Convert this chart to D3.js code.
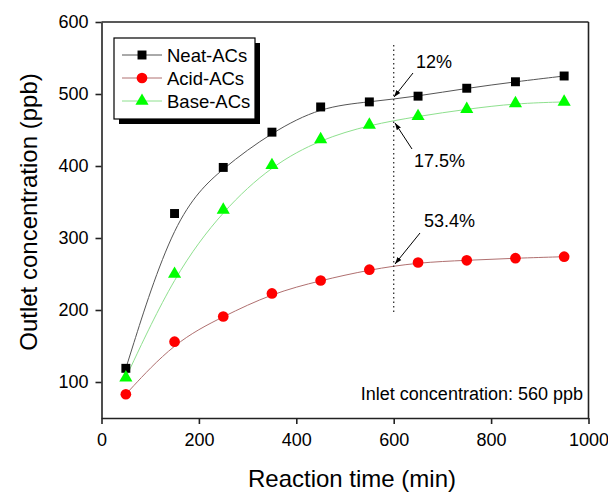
<!DOCTYPE html>
<html>
<head>
    <title>Outlet concentration</title>
    <style type="text/css">
        body { margin: 0; background: #fff; }
        svg text { font-family: "Liberation Sans", Arial, sans-serif; fill: #000; }
        .axis path, .axis line { stroke: #222; stroke-width: 1.6px; }
        .axis text { font-size: 18px; }
    </style>
</head>
<body>
<script src="https://d3js.org/d3.v7.min.js" type="text/javascript"></script>
<script type="text/javascript">

    // data
    var times = [50, 150, 250, 350, 450, 550, 650, 750, 850, 950];
    var neat = [119, 334, 398, 447, 482, 489, 497, 508, 517, 525];
    var acid = [83, 156, 191, 223, 241, 256, 266, 269, 272, 274];
    var base = [106, 250, 339, 401, 437, 457, 469, 479, 487, 489];
    var xTicks = [0, 200, 400, 600, 800, 1000];
    var yTicks = [100, 200, 300, 400, 500, 600];

    var series = [
        { name: 'Neat-ACs', values: neat, color: '#000', line: '#555', shape: d3.symbolSquare, size: 80 },
        { name: 'Acid-ACs', values: acid, color: '#f00', line: '#b07070', shape: d3.symbolCircle, size: 90 },
        { name: 'Base-ACs', values: base, color: '#0f0', line: '#8ee08e', shape: d3.symbolTriangle, size: 75 }
    ];

    var W = 608, H = 492;
    var pLeft = 101.5, pRight = 588.5, pTop = 22, pBottom = 418;

    var svg = d3.select('body').append('svg')
        .attr('width', W)
        .attr('height', H);

    var x = d3.scaleLinear().domain([0, 1000]).range([pLeft, pRight]);
    var y = d3.scaleLinear().domain([50, 600]).range([pBottom, pTop]);

    // curves
    var line = d3.line()
        .x(function (d) { return x(d[0]); })
        .y(function (d) { return y(d[1]); })
        .curve(d3.curveBasis);

    series.forEach(function (s) {
        var pts = times.map(function (t, i) { return [t, s.values[i]]; });
        svg.append('path')
            .attr('d', line(pts))
            .attr('fill', 'none')
            .attr('stroke', s.line)
            .attr('stroke-width', 1);
    });

    // dotted marker line at 600 min
    svg.append('line')
        .attr('x1', x(600)).attr('x2', x(600))
        .attr('y1', y(568)).attr('y2', y(196))
        .attr('stroke', '#333')
        .attr('stroke-width', 1.3)
        .attr('stroke-dasharray', '1.5,3');

    // markers
    series.forEach(function (s) {
        svg.append('g').selectAll('path')
            .data(s.values)
            .enter().append('path')
            .attr('d', d3.symbol().type(s.shape).size(s.size))
            .attr('transform', function (d, i) { return 'translate(' + x(times[i]) + ',' + y(d) + ')'; })
            .attr('fill', s.color);
    });

    // frame
    svg.append('line').attr('x1', pLeft).attr('x2', pRight).attr('y1', pTop).attr('y2', pTop)
        .attr('stroke', '#222').attr('stroke-width', 1.6);
    svg.append('line').attr('x1', pRight).attr('x2', pRight).attr('y1', pTop).attr('y2', pBottom)
        .attr('stroke', '#222').attr('stroke-width', 1.6);

    // axes
    svg.append('g')
        .attr('class', 'axis')
        .attr('transform', 'translate(0,' + pBottom + ')')
        .call(d3.axisBottom(x).tickValues(xTicks).tickFormat(d3.format('d'))
            .tickSize(6).tickSizeOuter(0).tickPadding(9));

    svg.append('g')
        .attr('class', 'axis')
        .attr('transform', 'translate(' + pLeft + ',0)')
        .call(d3.axisLeft(y).tickValues(yTicks).tickFormat(d3.format('d'))
            .tickSize(6).tickSizeOuter(0).tickPadding(7));

    // axis titles
    svg.append('text')
        .attr('x', 352).attr('y', 487)
        .attr('text-anchor', 'middle')
        .style('font-size', '24px')
        .text('Reaction time (min)');

    svg.append('text')
        .attr('transform', 'translate(37,212) rotate(-90)')
        .attr('text-anchor', 'middle')
        .style('font-size', '24px')
        .text('Outlet concentration (ppb)');

    // arrows
    svg.append('defs').append('marker')
        .attr('id', 'arr')
        .attr('viewBox', '0 0 10 10')
        .attr('refX', 10).attr('refY', 5)
        .attr('markerWidth', 7).attr('markerHeight', 7)
        .attr('orient', 'auto')
        .append('path')
        .attr('d', 'M0,1.5 L10,5 L0,8.5 Z')
        .attr('fill', '#000');

    var notes = [
        { text: '12%', tx: 416, ty: 68, x1: 413, y1: 73, x2: 394, y2: 97 },
        { text: '17.5%', tx: 414, ty: 167, x1: 412, y1: 149, x2: 395, y2: 123 },
        { text: '53.4%', tx: 424, ty: 227, x1: 420, y1: 233, x2: 395, y2: 264 }
    ];
    notes.forEach(function (n) {
        svg.append('line')
            .attr('x1', n.x1).attr('y1', n.y1).attr('x2', n.x2).attr('y2', n.y2)
            .attr('stroke', '#000').attr('stroke-width', 1)
            .attr('marker-end', 'url(#arr)');
        svg.append('text')
            .attr('x', n.tx).attr('y', n.ty)
            .style('font-size', '18px')
            .text(n.text);
    });

    svg.append('text')
        .attr('x', 583).attr('y', 400)
        .attr('text-anchor', 'end')
        .style('font-size', '18px')
        .text('Inlet concentration: 560 ppb');

    // legend with drop shadow
    var lg = svg.append('g');
    lg.append('rect')
        .attr('x', 119).attr('y', 43).attr('width', 141).attr('height', 81)
        .attr('fill', '#000');
    lg.append('rect')
        .attr('x', 114).attr('y', 38).attr('width', 141).attr('height', 81)
        .attr('fill', '#fff').attr('stroke', '#000').attr('stroke-width', 1.2);

    series.forEach(function (s, i) {
        var ly = 55 + i * 23;
        lg.append('line')
            .attr('x1', 122).attr('x2', 162).attr('y1', ly).attr('y2', ly)
            .attr('stroke', s.line).attr('stroke-width', 1);
        lg.append('path')
            .attr('d', d3.symbol().type(s.shape).size(s.size))
            .attr('transform', 'translate(142,' + ly + ')')
            .attr('fill', s.color);
        lg.append('text')
            .attr('x', 167).attr('y', ly + 6.5)
            .style('font-size', '18.5px')
            .text(s.name);
    });

</script>
</body>
</html>
